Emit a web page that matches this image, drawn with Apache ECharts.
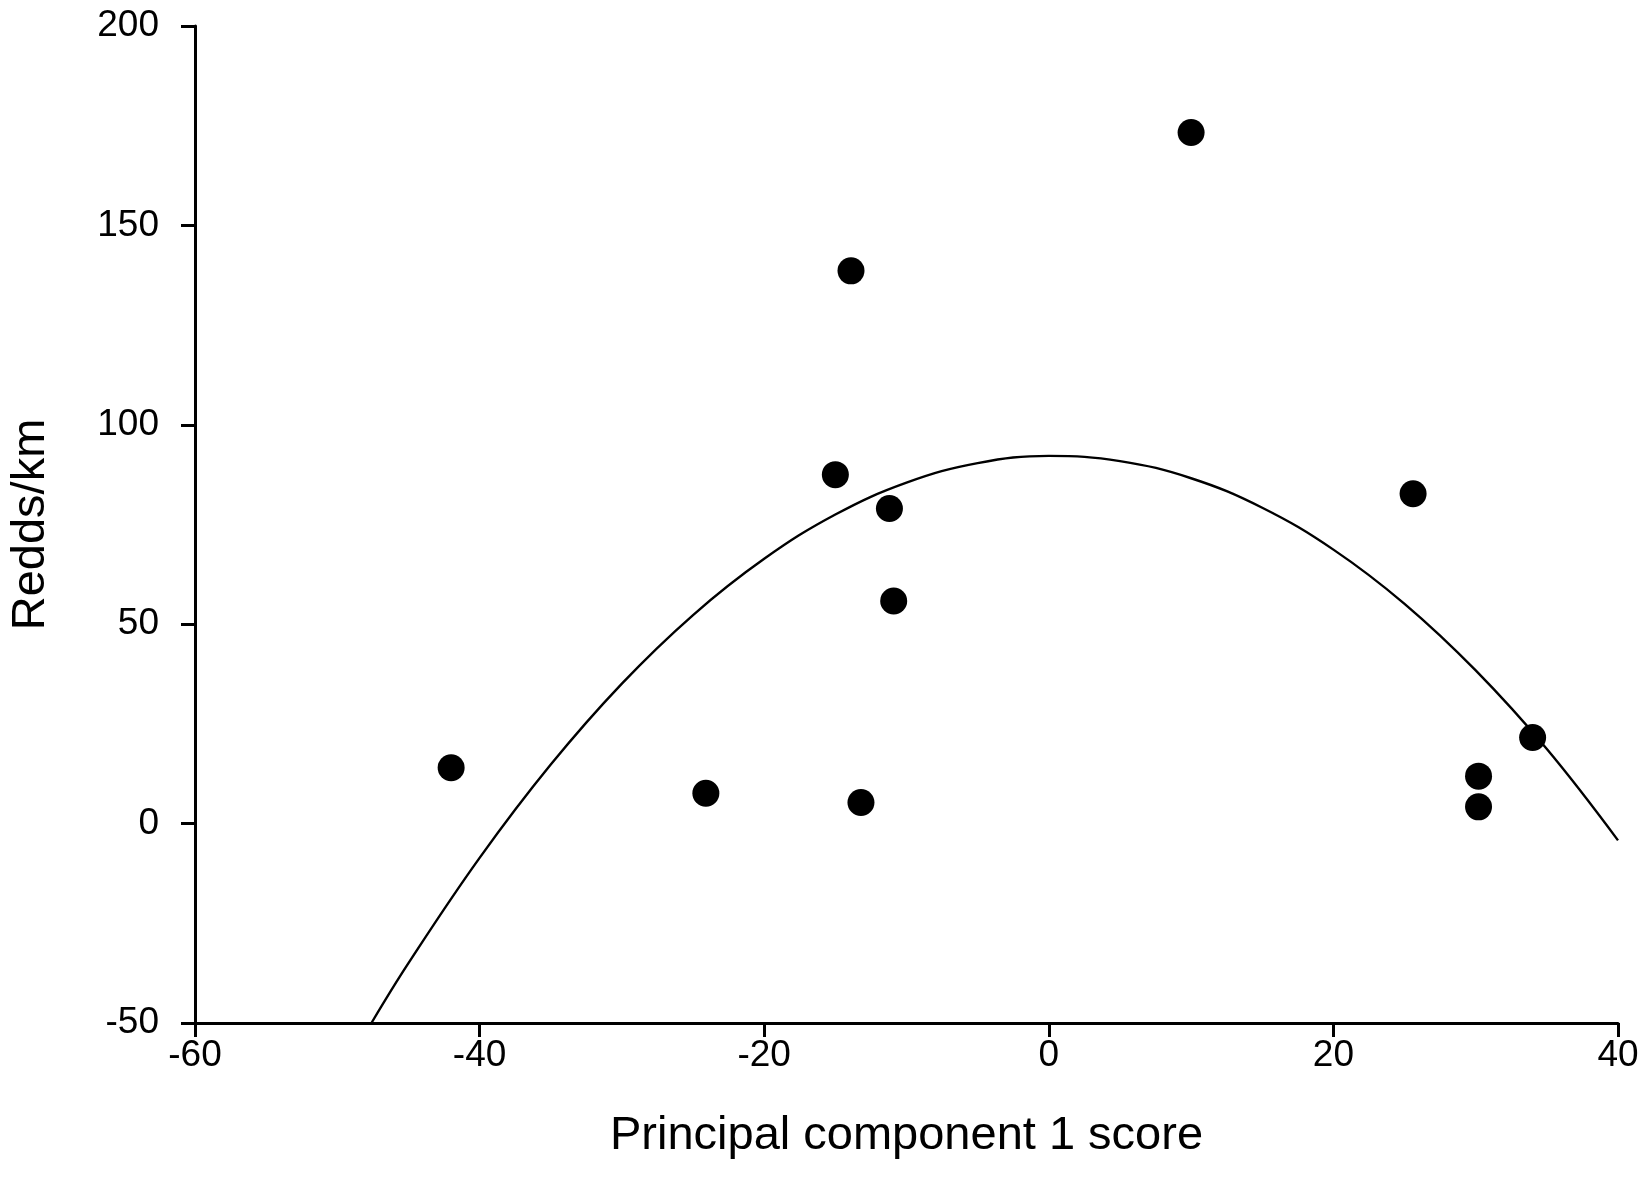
<!DOCTYPE html>
<html>
<head>
<meta charset="utf-8">
<script src="https://cdn.jsdelivr.net/npm/echarts@6/dist/echarts.min.js"></script>
<style>html,body{margin:0;padding:0;background:#fff;}#c{width:1647px;height:1191px;}</style>
</head>
<body>
<div id="c"></div>
<script>
// Observed points (PC1 score, Redds/km)
const pointX = [-42.0, -24.1, -13.2, -15.0, -13.9, -11.2, -10.9, 10.0, 25.6, 30.2, 30.2, 34.0];
const pointY = [14.0, 7.6, 5.3, 87.5, 138.6, 79.0, 55.8, 173.3, 82.7, 11.9, 4.2, 21.6];
// Fitted curve
const curveX = [-47.6, -45, -40, -35, -30, -25, -20, -15, -10, -5, 0, 5, 10, 15, 20, 25, 30, 35, 40];
const curveY = [-50.0, -35.0, -8.6, 14.8, 35.1, 52.3, 66.4, 77.5, 85.5, 90.4, 92.2, 90.9, 86.6, 79.2, 68.7, 55.1, 38.4, 18.7, -4.2];
const xTicks = [-60, -40, -20, 0, 20, 40];
const yTicks = [-50, 0, 50, 100, 150, 200];

const font = 'Liberation Sans, Arial, sans-serif';
const chart = echarts.init(document.getElementById('c'));
chart.setOption({
  backgroundColor: '#fff',
  animation: false,
  grid: { left: 192, right: 29, top: 26, bottom: 168, containLabel: false },
  xAxis: {
    type: 'value', min: xTicks[0], max: xTicks[xTicks.length - 1], interval: 20,
    name: 'Principal component 1 score', nameLocation: 'middle', nameGap: 90,
    nameTextStyle: { fontFamily: font, fontSize: 47, color: '#000' },
    axisLine: { show: true, onZero: false, lineStyle: { color: '#000', width: 3 } },
    axisTick: { show: true, inside: false, length: 14, lineStyle: { color: '#000', width: 3 } },
    axisLabel: { fontFamily: font, fontSize: 37, color: '#000', margin: 14 },
    splitLine: { show: false }
  },
  yAxis: {
    type: 'value', min: yTicks[0], max: yTicks[yTicks.length - 1], interval: 50,
    name: 'Redds/km', nameLocation: 'middle', nameGap: 140, nameRotate: 90,
    nameTextStyle: { fontFamily: font, fontSize: 47, color: '#000' },
    axisLine: { show: true, onZero: false, lineStyle: { color: '#000', width: 3 } },
    axisTick: { show: true, inside: false, length: 14, lineStyle: { color: '#000', width: 3 } },
    axisLabel: { fontFamily: font, fontSize: 37, color: '#000', margin: 36 },
    splitLine: { show: false }
  },
  series: [
    {
      type: 'line', smooth: 0.4, showSymbol: false, clip: true,
      lineStyle: { color: '#000', width: 2.4 },
      data: curveX.map((x, i) => [x, curveY[i]]),
      z: 2
    },
    {
      type: 'scatter', symbol: 'circle', symbolSize: 27,
      itemStyle: { color: '#000', opacity: 1 },
      data: pointX.map((x, i) => [x, pointY[i]]),
      z: 3
    }
  ]
});
</script>
</body>
</html>
